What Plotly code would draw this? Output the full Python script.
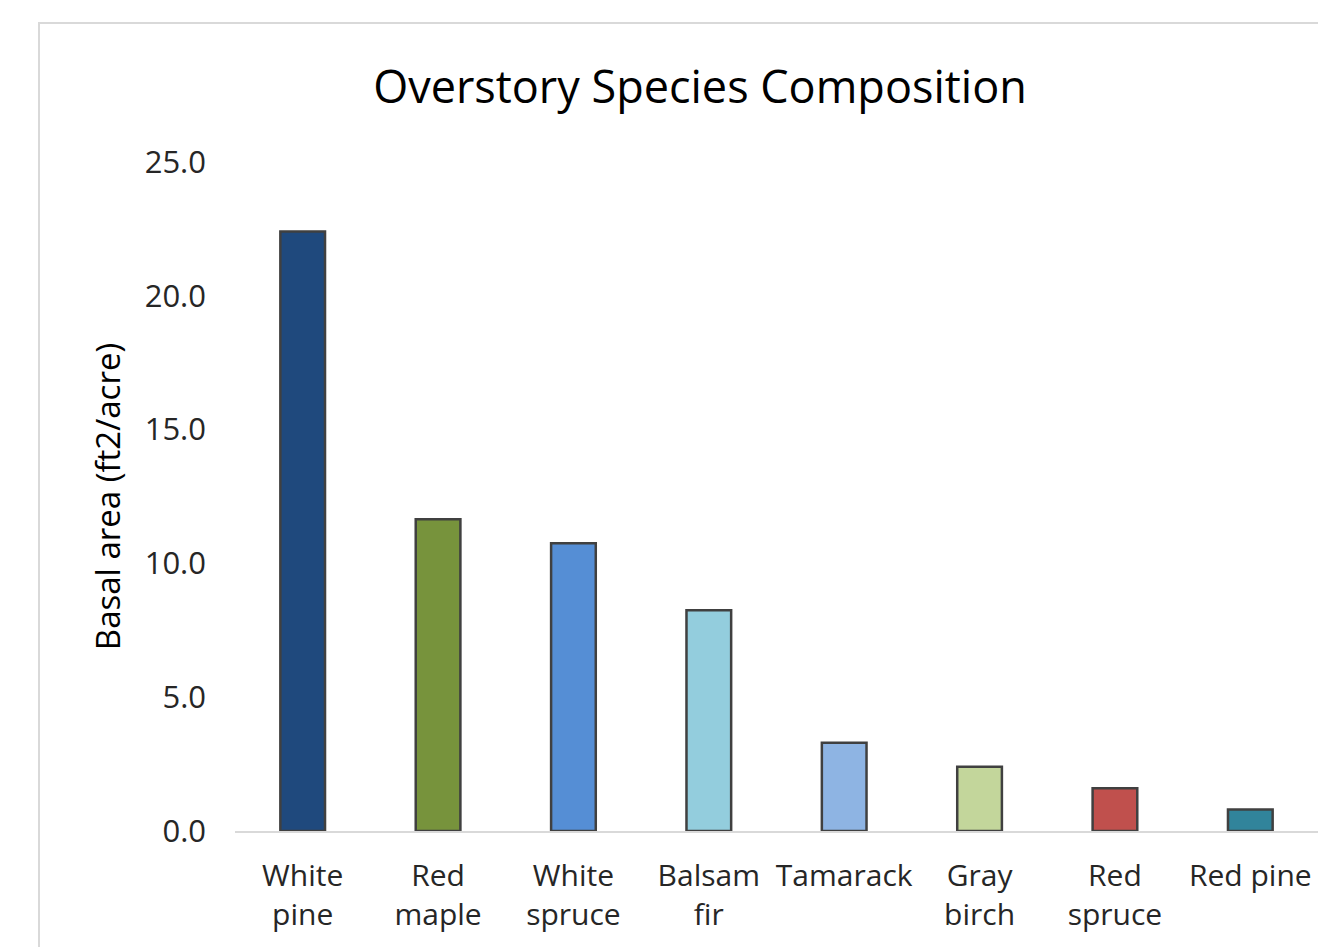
import plotly.graph_objects as go

# Overstory basal area by species
species = ["White<br>pine", "Red<br>maple", "White<br>spruce", "Balsam<br>fir",
           "Tamarack", "Gray<br>birch", "Red<br>spruce", "Red pine"]
basal_area = [22.4, 11.65, 10.75, 8.25, 3.3, 2.4, 1.6, 0.8]
bar_colors = ["#1F497D", "#77933C", "#558ED5", "#93CDDD",
              "#8EB4E3", "#C3D69B", "#C0504D", "#31849B"]
y_ticks = [0, 5, 10, 15, 20, 25]

W, H = 1318, 947
L, R, T, B = 235, 0, 162, 116
plot_w = W - L - R
plot_h = H - T - B

font_family = "Open Sans, Noto Sans, DejaVu Sans, sans-serif"
text_color = "#262626"

fig = go.Figure(
    go.Bar(
        x=species,
        y=basal_area,
        marker=dict(color=bar_colors, line=dict(color="#404040", width=2.5)),
        width=0.33,
    )
)

# light chart-area frame
fig.add_shape(
    type="rect", xref="paper", yref="paper", layer="below",
    x0=(39 - L) / plot_w, x1=1.05,
    y0=-0.3, y1=(H - B - 23) / plot_h,
    line=dict(color="#D9D9D9", width=2), fillcolor="rgba(0,0,0,0)",
)

fig.update_layout(
    width=W, height=H,
    margin=dict(l=L, r=R, t=T, b=B),
    paper_bgcolor="white", plot_bgcolor="white",
    showlegend=False,
    font=dict(family=font_family, color=text_color, size=30),
    title=dict(
        text="Overstory Species Composition",
        x=700 / W, xanchor="center", xref="container",
        y=1 - 87 / H, yanchor="middle", yref="container",
        font=dict(size=45, color="#000000", family=font_family),
    ),
    xaxis=dict(
        showline=True, linecolor="#D9D9D9", linewidth=2,
        showgrid=False, ticks="", ticklabelstandoff=17,
        tickfont=dict(size=30, color=text_color),
        fixedrange=True,
    ),
    yaxis=dict(
        range=[0, 25], tickvals=y_ticks, tickformat=".1f",
        showgrid=False, zeroline=False, showline=False, ticks="",
        ticklabelstandoff=28,
        tickfont=dict(size=31, color=text_color),
        title=dict(text="Basal area (ft2/acre)", standoff=14,
                   font=dict(size=33, color="#000000")),
        fixedrange=True,
    ),
    bargap=0.67,
)

fig.write_html("out.html")
